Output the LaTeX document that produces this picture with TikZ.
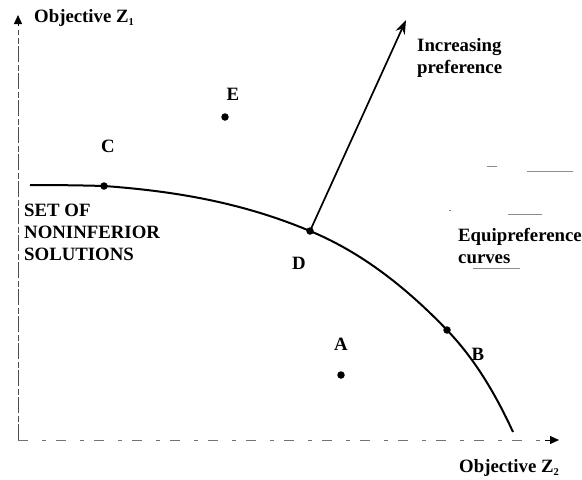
\documentclass[tikz,border=0pt]{standalone}
\usepackage{fontspec}
\setmainfont{Liberation Serif}
\usetikzlibrary{arrows.meta}
\newcommand{\mysub}[1]{\raisebox{-0.35ex}{\fontsize{10.5}{10.5}\selectfont #1}}
\begin{document}
\begin{tikzpicture}[x=1pt,y=-1pt,
  font=\bfseries\fontsize{18.8}{22}\selectfont,
  lbl/.style={inner sep=0pt},
  txt/.style={inner sep=0pt, anchor=west, align=left},
  dot/.style={circle,fill,inner sep=0pt,minimum size=7.5pt},
  vaxis/.style={line width=0.8pt, black!70, dash pattern=on 16pt off 2pt on 6pt off 3pt},
  haxis/.style={line width=0.8pt, black!55, dash pattern=on 10pt off 14pt on 4pt off 10pt},
  tipline/.style={line width=0.8pt, -{Triangle[length=9pt,width=8pt]}},
  frontier/.style={line width=2pt},
  faint/.style={line width=0.9pt, black!45},
  prefarrow/.style={line width=1.7pt, -{Stealth[length=14pt,width=10pt]}}]
\useasboundingbox (0,0) rectangle (582,480);
% axes
\coordinate (O) at (18,440);
\coordinate (Ytop) at (18,30);
\coordinate (Ytip) at (18,15);
\coordinate (Xend) at (545,440);
\coordinate (Xtip) at (559,440);
\draw[vaxis] (O) -- (Ytop);
\draw[tipline] (18,26) -- (Ytip);
\draw[haxis] (O) -- (Xend);
\draw[tipline] (Xend) -- (Xtip);
\node[txt] (z1) at (34,18) {Objective Z\mysub{1}};
\node[txt] (z2) at (459,468) {Objective Z\mysub{2}};
% points
\node[dot] (C) at (104,186) {};
\node[dot] (D) at (310,231) {};
\node[dot] (B) at (447,330) {};
\node[dot] (E) at (225,117) {};
\node[dot] (A) at (341,375) {};
\coordinate (fs) at (30,185);
\coordinate (fe) at (513,432);
\draw[frontier] (fs) .. controls (55,185) and (80,185.3) .. (C.center)
  .. controls (173,191) and (241,202) .. (D.center)
  .. controls (356,250) and (401,282) .. (B.center)
  .. controls (469,353) and (491,384) .. (fe);
% labels
\node[lbl] (lC) at (108,146) {C};
\node[lbl] (lE) at (233,94) {E};
\node[lbl] (lD) at (299,263) {D};
\node[lbl] (lA) at (341,344) {A};
\node[lbl] (lB) at (478,354) {B};
% preference arrow
\coordinate (ptip) at (406,20);
\draw[prefarrow] (D.center) -- (ptip);
\node[txt] (inc) at (417,58) {Increasing\\preference};
\node[txt] (eq) at (458,246) {Equipreference\\curves};
\node[txt] (set) at (24,232) {SET OF\\NONINFERIOR\\SOLUTIONS};
% faint remnants of equipreference curves
\draw[faint] (487,166) -- (497,166);
\draw[faint] (527,171) -- (573,171);
\draw[faint] (449,210) -- (451,210);
\draw[faint] (508,214) -- (542,214);
\draw[faint] (473,268) -- (520,268);
\end{tikzpicture}
\end{document}
